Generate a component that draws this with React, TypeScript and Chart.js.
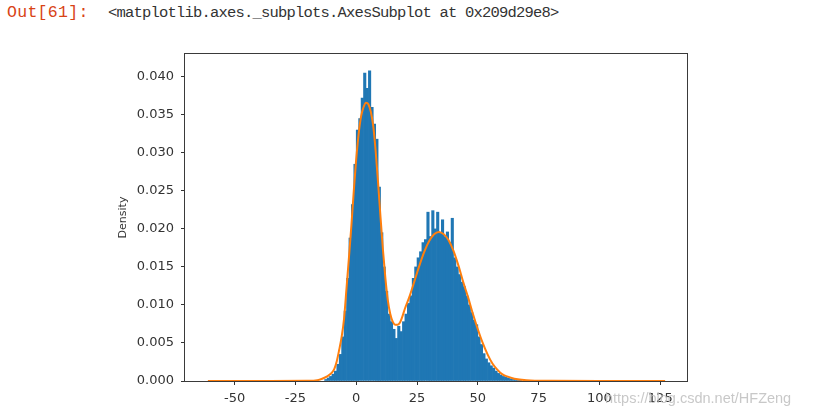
import React, { useEffect, useRef } from 'react';
import { Chart, registerables } from 'chart.js';

Chart.register(...registerables);

// Histogram bin centres (1-unit bins) and densities
const binCenters = [
  -12.5, -11.5, -10.5, -9.5, -8.5, -7.5, -6.5, -5.5, -4.5, -3.5, -2.5, -1.5, -0.5,
  0.5, 1.5, 2.5, 3.5, 4.5, 5.5, 6.5, 7.5, 8.5, 9.5, 10.5, 11.5, 12.5, 13.5, 14.5,
  15.5, 16.5, 17.5, 18.5, 19.5, 20.5, 21.5, 22.5, 23.5, 24.5, 25.5, 26.5, 27.5,
  28.5, 29.5, 30.5, 31.5, 32.5, 33.5, 34.5, 35.5, 36.5, 37.5, 38.5, 39.5, 40.5,
  41.5, 42.5, 43.5, 44.5, 45.5, 46.5, 47.5, 48.5, 49.5, 50.5, 51.5, 52.5, 53.5,
  54.5, 55.5, 56.5, 57.5, 58.5, 59.5, 60.5, 61.5, 62.5, 63.5, 64.5, 65.5, 66.5, 67.5,
];
const binDensity = [
  0.0002, 0.0004, 0.0006, 0.0009, 0.0013, 0.0022, 0.0035, 0.0058, 0.0092, 0.0135, 0.0188, 0.0232, 0.0285,
  0.0330, 0.0345, 0.0372, 0.0405, 0.0385, 0.0408, 0.0360, 0.0338, 0.0318, 0.0255, 0.0195, 0.0150, 0.0118, 0.0088, 0.0078,
  0.0068, 0.0056, 0.0072, 0.0065, 0.0078, 0.0088, 0.0102, 0.0112, 0.0135, 0.0150, 0.0162, 0.0170, 0.0182,
  0.0186, 0.0222, 0.0190, 0.0224, 0.0200, 0.0222, 0.0195, 0.0212, 0.0190, 0.0196, 0.0182, 0.0214, 0.0162,
  0.0150, 0.0140, 0.0130, 0.0124, 0.0112, 0.0100, 0.0090, 0.0080, 0.0074, 0.0058, 0.0048, 0.0036, 0.0029,
  0.0024, 0.0020, 0.0017, 0.0013, 0.0010, 0.0008, 0.0006, 0.0005, 0.0004, 0.0003, 0.0002, 0.0002, 0.0001, 0.0001,
];

// KDE curve points
const kdeX = [
  -61, -40, -20, -16, -14, -12, -10, -9, -8, -7, -6, -5, -4, -3, -2, -1, 0, 1, 2, 3, 4, 5, 6, 7, 8, 9, 10,
  11, 12, 13, 14, 15, 16, 17, 18, 19, 20, 22, 24, 26, 28, 30, 32, 34, 36, 38, 40, 42, 44, 46, 48, 50,
  52, 54, 56, 58, 60, 62, 65, 70, 80, 100, 127,
];
const kdeY = [
  0, 0, 0.00002, 0.0001, 0.0003, 0.0006, 0.0011, 0.0016, 0.0026, 0.0041, 0.0058, 0.0082, 0.0122, 0.0162, 0.0204, 0.0250, 0.0292, 0.0325, 0.0348, 0.0360, 0.0366, 0.0364, 0.0354, 0.0335, 0.0302, 0.0260, 0.0215,
  0.0172, 0.0135, 0.0106, 0.0088, 0.0078, 0.0074, 0.0074, 0.0077, 0.0085, 0.0095, 0.0112, 0.0132, 0.0152, 0.0170, 0.0184, 0.0193, 0.0196, 0.0193, 0.0185, 0.0171, 0.0152, 0.0130, 0.0110, 0.0088, 0.0068,
  0.0050, 0.0035, 0.0023, 0.0015, 0.0009, 0.0006, 0.0003, 0.0001, 0.00002, 0, 0,
];

const xTicks = [-50, -25, 0, 25, 50, 75, 100, 125];
const yTicks = [0, 0.005, 0.01, 0.015, 0.02, 0.025, 0.03, 0.035, 0.04];

const frame = {
  id: 'frame',
  afterDatasetsDraw(chart: any) {
    const { ctx, chartArea: a } = chart;
    ctx.save();
    ctx.strokeStyle = '#3a3a3a';
    ctx.lineWidth = 1;
    ctx.strokeRect(Math.round(a.left) - 0.5, Math.round(a.top) - 0.5, Math.round(a.right - a.left) + 1, Math.round(a.bottom - a.top) + 1);
    ctx.restore();
  },
};

export default function App() {
  const ref = useRef<HTMLCanvasElement>(null);

  useEffect(() => {
    if (!ref.current) return;
    const tickFont = { family: 'DejaVu Sans', size: 13 };
    const chart = new Chart(ref.current, {
      type: 'bar',
      data: {
        datasets: [
          {
            type: 'line',
            data: kdeX.map((x, i) => ({ x, y: kdeY[i] })),
            borderColor: '#ff7f0e',
            borderWidth: 2,
            pointRadius: 0,
            tension: 0.4,
            cubicInterpolationMode: 'monotone',
            order: 0,
          } as any,
          {
            type: 'bar',
            data: binCenters.map((x, i) => ({ x, y: binDensity[i] })),
            backgroundColor: '#1f77b4',
            borderWidth: 0,
            barPercentage: 1,
            categoryPercentage: 1,
            order: 1,
          } as any,
        ],
      },
      options: {
        responsive: false,
        animation: false,
        layout: { padding: { left: 115, right: 126, top: 54, bottom: 4 } },
        plugins: { legend: { display: false }, tooltip: { enabled: false } },
        scales: {
          x: {
            type: 'linear',
            min: -70.4,
            max: 136,
            offset: false,
            afterBuildTicks: (s: any) => {
              s.ticks = xTicks.map((v) => ({ value: v }));
            },
            afterFit: (s: any) => {
              s.height = 30;
            },
            grid: { drawOnChartArea: false, drawTicks: true, tickLength: 4, color: '#333', offset: false },
            border: { display: false },
            ticks: {
              font: tickFont,
              color: '#333',
              padding: 6,
              maxRotation: 0,
              autoSkip: false,
              callback: (v: any) => String(v),
            },
          },
          y: {
            type: 'linear',
            min: 0,
            max: 0.043,
            afterBuildTicks: (s: any) => {
              s.ticks = yTicks.map((v) => ({ value: v }));
            },
            afterFit: (s: any) => {
              s.width = 70;
            },
            grid: { drawOnChartArea: false, drawTicks: true, tickLength: 4, color: '#333' },
            border: { display: false },
            title: {
              display: true,
              text: 'Density',
              font: { family: 'DejaVu Sans', size: 11 },
              color: '#333',
              padding: { top: 2, bottom: 0 },
            },
            ticks: {
              font: tickFont,
              color: '#333',
              padding: 7,
              autoSkip: false,
              callback: (v: any) => Number(v).toFixed(3),
            },
          },
        },
      } as any,
      plugins: [frame],
    });
    return () => chart.destroy();
  }, []);

  return (
    <div style={{ position: 'absolute', left: 0, top: 0, width: 813, height: 415, background: '#fff', overflow: 'hidden' }}>
      <div
        style={{
          position: 'absolute',
          left: 7,
          top: 4,
          fontFamily: '"Liberation Mono", monospace',
          fontSize: 16.5,
          letterSpacing: '0.3px',
          lineHeight: '18px',
          color: '#D84315',
          whiteSpace: 'pre',
        }}
      >
        Out[61]:
      </div>
      <div
        style={{
          position: 'absolute',
          left: 108,
          top: 4,
          fontFamily: '"Liberation Mono", monospace',
          fontSize: 15.5,
          letterSpacing: '-0.8px',
          lineHeight: '18px',
          color: '#333',
          whiteSpace: 'pre',
        }}
      >
        {'<matplotlib.axes._subplots.AxesSubplot at 0x209d29e8>'}
      </div>
      <canvas ref={ref} width={813} height={415} style={{ position: 'absolute', left: 0, top: 0 }} />
      <div
        style={{
          position: 'absolute',
          left: 605,
          top: 389,
          fontFamily: '"Liberation Sans", Arial, sans-serif',
          fontSize: 14.5,
          lineHeight: '18px',
          color: 'rgba(190,190,190,0.85)',
          whiteSpace: 'pre',
        }}
      >
        https://blog.csdn.net/HFZeng
      </div>
    </div>
  );
}
